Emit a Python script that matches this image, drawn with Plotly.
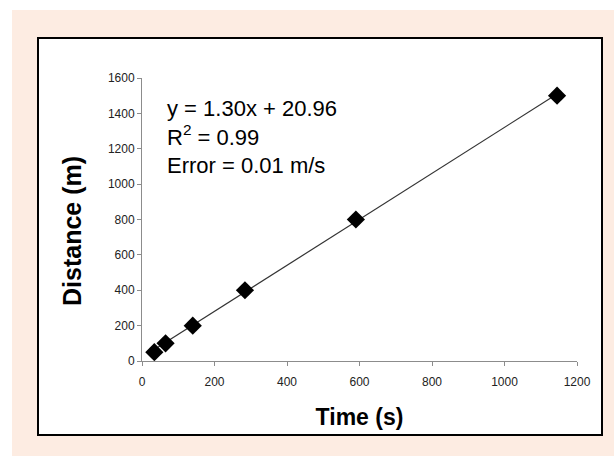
import numpy as np
import plotly.graph_objects as go

# Data
time_s = [34, 65, 140, 284, 590, 1145]
distance_m = [50, 100, 200, 400, 800, 1500]
slope = 1.30
intercept = 20.96
x_ticks = [0, 200, 400, 600, 800, 1000, 1200]
y_ticks = [0, 200, 400, 600, 800, 1000, 1200, 1400, 1600]
eq_lines = ["y = 1.30x + 20.96", "R<sup>2</sup> = 0.99", "Error = 0.01 m/s"]

W, H = 614, 456
L, R, T, B = 142, 37, 78, 95
pw, ph = W - L - R, H - T - B

def px(xp):
    return (xp - L) / pw

def py(yp):
    return (H - B - yp) / ph

fit_x = np.array([min(time_s), max(time_s)], dtype=float)
fit_y = slope * fit_x + intercept

fig = go.Figure()
fig.add_trace(go.Scatter(x=fit_x, y=fit_y, mode="lines",
                         line=dict(color="#333333", width=1.2),
                         hoverinfo="skip", showlegend=False))
fig.add_trace(go.Scatter(x=time_s, y=distance_m, mode="markers",
                         marker=dict(symbol="diamond", size=14, color="black"),
                         showlegend=False))

shapes = [
    dict(type="rect", xref="paper", yref="paper", layer="below",
         x0=px(12), x1=px(614), y0=py(456), y1=py(10),
         fillcolor="#fdece2", line=dict(width=0)),
    dict(type="rect", xref="paper", yref="paper", layer="below",
         x0=px(38), x1=px(602), y0=py(435), y1=py(38),
         fillcolor="white", line=dict(color="black", width=2)),
]

fig.add_annotation(xref="paper", yref="paper", x=px(165), y=py(94),
                   xanchor="left", yanchor="top", align="left", showarrow=False,
                   text="<br>".join(eq_lines),
                   font=dict(family="Liberation Sans, Arial", size=22, color="black"))

fig.add_annotation(xref="paper", yref="paper", x=px(72), y=py(231),
                   xanchor="center", yanchor="middle", textangle=-90, showarrow=False,
                   text="<b>Distance (m)</b>",
                   font=dict(family="Liberation Sans, Arial", size=25, color="black"))

fig.update_layout(
    width=W, height=H,
    margin=dict(l=L, r=R, t=T, b=B),
    paper_bgcolor="white", plot_bgcolor="rgba(0,0,0,0)",
    shapes=shapes,
    font=dict(family="Liberation Sans, Arial", color="#222222"),
    showlegend=False,
)
fig.update_xaxes(range=[0, 1200], tickvals=x_ticks, showgrid=False, zeroline=False,
                 showline=True, linecolor="#8c8c8c", linewidth=1,
                 ticks="outside", ticklen=4, tickcolor="#8c8c8c",
                 ticklabelstandoff=6,
                 tickfont=dict(size=12, color="#222222"),
                 title=dict(text="<b>Time (s)</b>", standoff=20,
                            font=dict(size=23, color="black")))
fig.update_yaxes(range=[0, 1600], tickvals=y_ticks, showgrid=False, zeroline=False,
                 showline=True, linecolor="#8c8c8c", linewidth=1,
                 ticks="outside", ticklen=4, tickcolor="#8c8c8c",
                 tickfont=dict(size=12, color="#222222"))

fig.write_html("out.html", config={"displayModeBar": False},
               post_script="document.body.style.margin='0';")
